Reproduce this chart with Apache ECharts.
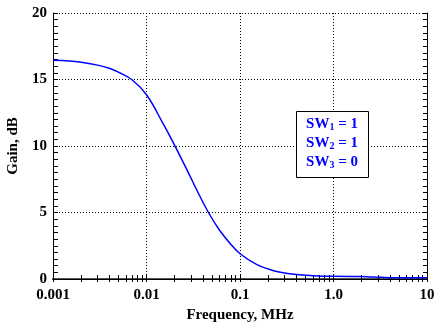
<!DOCTYPE html>
<html>
<head>
<meta charset="utf-8">
<script src="https://cdn.jsdelivr.net/npm/echarts@6/dist/echarts.min.js"></script>
<style>html,body{margin:0;padding:0;background:#fff;}#c{width:440px;height:322px;}</style>
</head>
<body>
<div id="c"></div>
<script>
// Data (frequency in MHz, gain in dB)
const freq = [0.001, 0.0015, 0.002, 0.003, 0.004, 0.005, 0.007, 0.01, 0.015, 0.02, 0.028, 0.035, 0.046, 0.06, 0.08, 0.1, 0.15, 0.2, 0.27, 0.4, 0.6, 1.0, 2.0, 2.7, 4.0, 10];
const gain = [16.45, 16.4, 16.3, 16.08, 15.84, 15.55, 14.98, 13.85, 11.7, 10.05, 8.0, 6.6, 5.0, 3.7, 2.6, 1.9, 1.1, 0.75, 0.5, 0.33, 0.25, 0.2, 0.18, 0.15, 0.1, 0.1];
const xTickValues = [0.001, 0.01, 0.1, 1, 10];
const xTickLabels = ['0.001', '0.01', '0.1', '1.0', '10'];
const yTickLabels = ['0', '5', '10', '15', '20'];
const boxLines = [['1', '1'], ['2', '1'], ['3', '0']];

const minorX = [];
for (let d = 0; d < xTickValues.length - 1; d++) {
  for (let m = 1; m <= 9; m++) minorX.push(xTickValues[d] * m);
}
minorX.push(10);

function xLabel(v) {
  const i = xTickValues.findIndex(t => Math.abs(Math.log10(t) - Math.log10(v)) < 1e-6);
  return i >= 0 ? xTickLabels[i] : '';
}
const fontFam = '"Liberation Serif", "Times New Roman", serif';
const lbl = { fontFamily: fontFam, fontWeight: 'bold', fontSize: 15, color: '#000' };

const chart = echarts.init(document.getElementById('c'), null, { renderer: 'canvas' });
const grid = { left: 53, right: 13, top: 13, bottom: 43, outerBoundsMode: 'none', containLabel: false };

const option = {
  animation: false,
  grid: grid,
  xAxis: [
    {
      type: 'log', logBase: 10, min: 0.001, max: 10, position: 'bottom',
      name: 'Frequency, MHz', nameLocation: 'middle', nameGap: 26,
      nameTextStyle: { fontFamily: fontFam, fontWeight: 'bold', fontSize: 15, color: '#000' },
      axisLine: { show: true, lineStyle: { color: '#555', width: 2 } },
      axisTick: { show: true, inside: false, length: 3, customValues: xTickValues, lineStyle: { color: '#000' } },
      axisLabel: Object.assign({ margin: 9, customValues: xTickValues, formatter: xLabel }, lbl),
      splitLine: { show: true, lineStyle: { color: '#000', type: [1, 2], width: 1 } }
    },
    {
      type: 'log', logBase: 10, min: 0.001, max: 10, position: 'top',
      axisLine: { show: true, lineStyle: { color: '#000', width: 1 } },
      axisTick: { show: true, inside: true, length: 3, customValues: minorX, lineStyle: { color: '#000' } },
      axisLabel: { show: false },
      splitLine: { show: false }
    },
    {
      type: 'log', logBase: 10, min: 0.001, max: 10, position: 'bottom',
      axisLine: { show: false },
      axisTick: { show: true, inside: true, length: 4, customValues: minorX, lineStyle: { color: '#000' } },
      axisLabel: { show: false },
      splitLine: { show: false }
    }
  ],
  yAxis: [
    {
      type: 'value', min: 0, max: 20, interval: 5, position: 'left',
      name: 'Gain, dB', nameLocation: 'middle', nameGap: 22, nameRotate: 90,
      nameTextStyle: { fontFamily: fontFam, fontWeight: 'bold', fontSize: 15, color: '#000' },
      axisLine: { show: true, lineStyle: { color: '#000', width: 1 } },
      axisTick: { show: true, inside: true, length: 5, lineStyle: { color: '#000' } },
      minorTick: { show: true, splitNumber: 10, length: 5, lineStyle: { color: '#000' } },
      axisLabel: Object.assign({ margin: 6, formatter: v => yTickLabels[v / 5] }, lbl),
      splitLine: { show: true, lineStyle: { color: '#000', type: [1, 2], width: 1 } }
    },
    {
      type: 'value', min: 0, max: 20, interval: 5, position: 'right',
      axisLine: { show: true, lineStyle: { color: '#000', width: 1 } },
      axisTick: { show: true, inside: true, length: 4, lineStyle: { color: '#000' } },
      minorTick: { show: true, splitNumber: 10, length: 4, lineStyle: { color: '#000' } },
      axisLabel: { show: false },
      splitLine: { show: false }
    }
  ],
  series: [{
    type: 'line',
    data: freq.map((f, i) => [f, gain[i]]),
    smooth: 0.4,
    showSymbol: false,
    lineStyle: { color: '#0000ff', width: 1.5 },
    itemStyle: { color: '#0000ff' },
    z: 5
  }],
  graphic: [
    {
      type: 'rect', left: 296, top: 111, z: 10,
      shape: { width: 72, height: 66 },
      style: { fill: '#fff', stroke: '#000', lineWidth: 1 }
    }
  ].concat(boxLines.map((l, i) => ({
    type: 'text', z: 11,
    x: 332, y: 123 + i * 19,
    style: {
      text: '{a|SW}{s|' + l[0] + '}{a| = ' + l[1] + '}',
      align: 'center', verticalAlign: 'middle',
      rich: {
        a: { fontFamily: fontFam, fontWeight: 'bold', fontSize: 15, fill: '#0000ff', color: '#0000ff', lineHeight: 18, verticalAlign: 'bottom' },
        s: { fontFamily: fontFam, fontWeight: 'bold', fontSize: 10, fill: '#0000ff', color: '#0000ff', lineHeight: 10, verticalAlign: 'bottom' }
      }
    }
  })))
};
chart.setOption(option);
</script>
</body>
</html>
